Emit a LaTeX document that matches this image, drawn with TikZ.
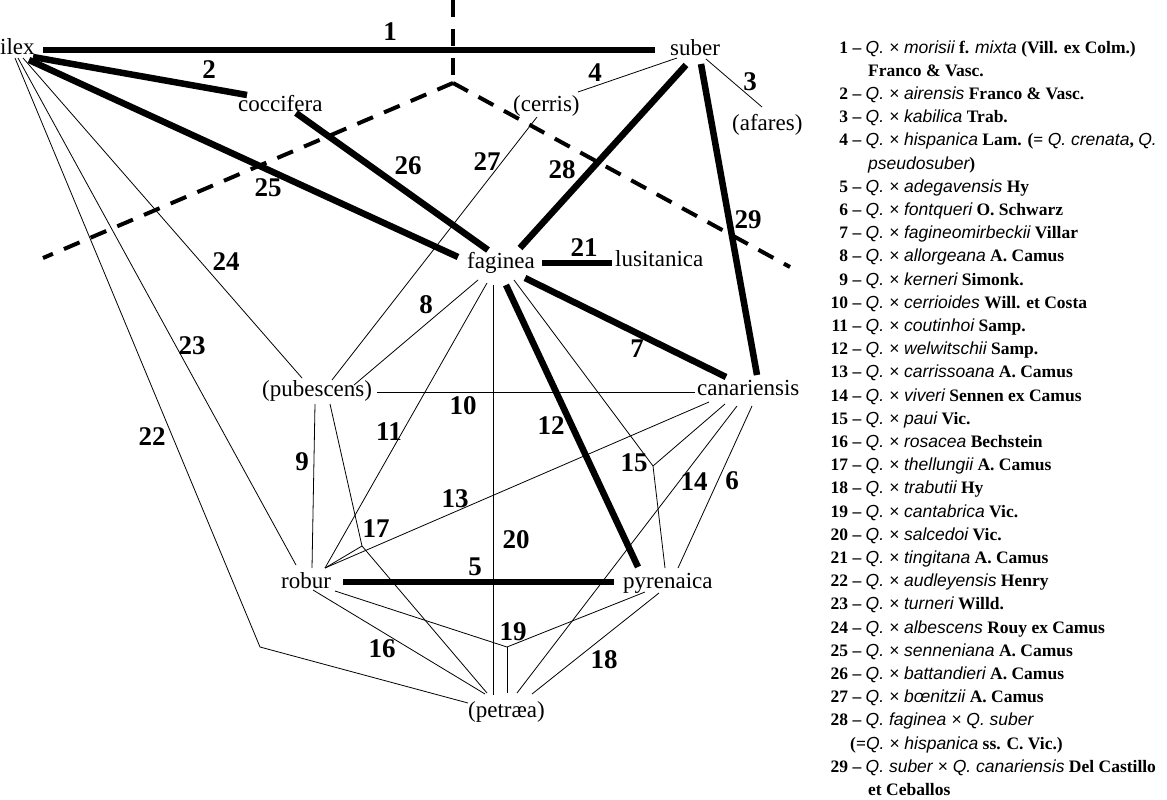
\documentclass[tikz,border=0pt]{standalone}
\usepackage{fontspec}
\setmainfont{Liberation Serif}
\newfontfamily\legsans{Liberation Sans}
\newcommand{\iq}[1]{{\legsans\itshape\mdseries #1}}
\newcommand{\legrow}[4]{\node[leg] (#1) at (826,{53+23.2*#2}) {\makebox[22pt][r]{#3} -- #4};}
\newcommand{\legcont}[4]{\node[leg] (#1) at (#3,{53+23.2*#2}) {#4};}
\begin{document}
\begin{tikzpicture}[x=1pt,y=-1pt,
  thickline/.style={line width=6.5pt},
  thinline/.style={line width=0.8pt},
  dashline/.style={line width=4pt, dash pattern=on 17pt off 12pt},
  lab/.style={inner sep=0pt, anchor=base west, font=\fontsize{23}{23}\selectfont},
  num/.style={inner sep=0pt, font=\fontsize{27}{27}\selectfont\bfseries},
  leg/.style={inner sep=0pt, anchor=base west, font=\fontsize{17.5}{17.5}\selectfont\bfseries},
]
\useasboundingbox (0,0) rectangle (1167,800);

% ---------- species labels ----------
\node[lab] (ilex) at (0,55) {ilex};
\node[lab] (suber) at (670,56) {suber};
\node[lab] (coccifera) at (238,111) {coccifera};
\node[lab] (cerris) at (513,111) {(cerris)};
\node[lab] (afares) at (732,130) {(afares)};
\node[lab] (faginea) at (467,268) {faginea};
\node[lab] (lusitanica) at (615,266) {lusitanica};
\node[lab] (pubescens) at (262,396) {(pubescens)};
\node[lab] (canariensis) at (697,395) {canariensis};
\node[lab] (robur) at (281,588) {robur};
\node[lab] (pyrenaica) at (623,588) {pyrenaica};
\node[lab] (petraea) at (468,717) {(petr\ae a)};

% ---------- connector end points ----------
\coordinate (ilexA) at (43,50);   \coordinate (suberA) at (655,50);
\coordinate (ilexB) at (33,57);   \coordinate (cocA) at (247,95);
\coordinate (ilexC) at (29,60);   \coordinate (fagC) at (458,257);
\coordinate (cocB) at (296,113);  \coordinate (fagD) at (488,250);
\coordinate (fagE) at (520,248);  \coordinate (suberB) at (686,65);
\coordinate (suberC) at (701,64); \coordinate (canA) at (757,375);
\coordinate (fagF) at (542,263);  \coordinate (lusA) at (612,263);
\coordinate (fagG) at (525,278);  \coordinate (canB) at (726,377);
\coordinate (fagH) at (506,285);  \coordinate (pyrA) at (638,567);
\coordinate (robA) at (343,582);  \coordinate (pyrB) at (614,582);
\coordinate (suberD) at (706,59); \coordinate (afaA) at (762,107);
\coordinate (suberE) at (677,58); \coordinate (cerA) at (578,92);
\coordinate (cerB) at (537,117);  \coordinate (pubA) at (332,380);
\coordinate (ilexD) at (23,58);   \coordinate (pubB) at (302,378);
\coordinate (ilexE) at (18,58);   \coordinate (robB) at (296,565);
\coordinate (ilexF) at (15,58);   \coordinate (bend22) at (260,647);
\coordinate (petA) at (468,703);
\coordinate (fagI) at (478,280);  \coordinate (pubC) at (354,385);
\coordinate (fagJ) at (487,283);  \coordinate (robC) at (325,568);
\coordinate (fagK) at (493,285);  \coordinate (petB) at (493,695);
\coordinate (fagL) at (514,280);  \coordinate (j15) at (653,466);
\coordinate (canC) at (725,404);  \coordinate (pyrC) at (665,568);
\coordinate (pubD) at (377,392);  \coordinate (canD) at (695,392);
\coordinate (pubE) at (315,404);  \coordinate (robD) at (312,568);
\coordinate (pubF) at (330,404);  \coordinate (j17) at (362,546);
\coordinate (petC) at (487,693);
\coordinate (canE) at (709,402);
\coordinate (canF) at (737,406);  \coordinate (petD) at (517,693);
\coordinate (canG) at (752,406);  \coordinate (pyrD) at (678,568);
\coordinate (robE) at (313,590);  \coordinate (petE) at (485,694);
\coordinate (robF) at (335,591);  \coordinate (j19) at (507,647);
\coordinate (pyrE) at (645,592);  \coordinate (petF) at (507,693);
\coordinate (pyrF) at (659,593);  \coordinate (petG) at (532,694);

% ---------- dashed lines ----------
\coordinate (dtop) at (453,0);
\coordinate (dj) at (453,83);
\coordinate (dleft) at (43,258);
\coordinate (dright) at (790,267);
\draw[dashline] (dtop) -- (dj);
\draw[dashline] (dj) -- (dleft);
\draw[dashline] (dj) -- (dright);

% ---------- thin connectors ----------
\draw[thinline] (suberD) -- (afaA);
\draw[thinline] (suberE) -- (cerA);
\draw[thinline] (cerB) -- (pubA);
\draw[thinline] (ilexD) -- (pubB);
\draw[thinline] (ilexE) -- (robB);
\draw[thinline] (ilexF) -- (bend22) -- (petA);
\draw[thinline] (fagI) -- (pubC);
\draw[thinline] (fagJ) -- (robC);
\draw[thinline] (fagK) -- (petB);
\draw[thinline] (fagL) -- (j15) -- (pyrC);
\draw[thinline] (canC) -- (j15);
\draw[thinline] (pubD) -- (canD);
\draw[thinline] (pubE) -- (robD);
\draw[thinline] (pubF) -- (j17) -- (petC);
\draw[thinline] (robC) -- (j17);
\draw[thinline] (robC) -- (canE);
\draw[thinline] (canF) -- (petD);
\draw[thinline] (canG) -- (pyrD);
\draw[thinline] (robE) -- (petE);
\draw[thinline] (robF) -- (j19) -- (pyrE);
\draw[thinline] (j19) -- (petF);
\draw[thinline] (pyrF) -- (petG);

% ---------- thick connectors ----------
\draw[thickline] (ilexA) -- (suberA);
\draw[thickline] (ilexB) -- (cocA);
\draw[thickline] (ilexC) -- (fagC);
\draw[thickline] (cocB) -- (fagD);
\draw[thickline] (fagE) -- (suberB);
\draw[thickline] (suberC) -- (canA);
\draw[thickline] (fagF) -- (lusA);
\draw[thickline] (fagG) -- (canB);
\draw[thickline] (fagH) -- (pyrA);
\draw[thickline] (robA) -- (pyrB);

% ---------- hybrid numbers ----------
\node[num] (n1) at (390,32) {1};
\node[num] (n2) at (209,70) {2};
\node[num] (n3) at (750,82) {3};
\node[num] (n4) at (595,73) {4};
\node[num] (n5) at (475,567) {5};
\node[num] (n6) at (732,481) {6};
\node[num] (n7) at (637,349) {7};
\node[num] (n8) at (426,305) {8};
\node[num] (n9) at (302,462) {9};
\node[num] (n10) at (463,406) {10};
\node[num] (n11) at (389,432) {11};
\node[num] (n12) at (551,426) {12};
\node[num] (n13) at (455,499) {13};
\node[num] (n14) at (694,482) {14};
\node[num] (n15) at (634,463) {15};
\node[num] (n16) at (382,649) {16};
\node[num] (n17) at (376,529) {17};
\node[num] (n18) at (604,660) {18};
\node[num] (n19) at (513,632) {19};
\node[num] (n20) at (516,540) {20};
\node[num] (n21) at (584,248) {21};
\node[num] (n22) at (152,437) {22};
\node[num] (n23) at (192,346) {23};
\node[num] (n24) at (226,262) {24};
\node[num] (n25) at (268,188) {25};
\node[num] (n26) at (408,166) {26};
\node[num] (n27) at (487,162) {27};
\node[num] (n28) at (562,170) {28};
\node[num] (n29) at (748,220) {29};

% ---------- legend ----------
\legrow{lg1}{0}{1}{\iq{Q. × morisii} f. \iq{mixta} (Vill. ex Colm.)}
\legcont{lg1b}{1}{868}{Franco \& Vasc.}
\legrow{lg2}{2}{2}{\iq{Q. × airensis} Franco \& Vasc.}
\legrow{lg3}{3}{3}{\iq{Q. × kabilica} Trab.}
\legrow{lg4}{4}{4}{\iq{Q. × hispanica} Lam. (= \iq{Q. crenata}, \iq{Q.}}
\legcont{lg4b}{5}{868}{\iq{pseudosuber})}
\legrow{lg5}{6}{5}{\iq{Q. × adegavensis} Hy}
\legrow{lg6}{7}{6}{\iq{Q. × fontqueri} O. Schwarz}
\legrow{lg7}{8}{7}{\iq{Q. × fagineomirbeckii} Villar}
\legrow{lg8}{9}{8}{\iq{Q. × allorgeana} A. Camus}
\legrow{lg9}{10}{9}{\iq{Q. × kerneri} Simonk.}
\legrow{lg10}{11}{10}{\iq{Q. × cerrioides} Will. et Costa}
\legrow{lg11}{12}{11}{\iq{Q. × coutinhoi} Samp.}
\legrow{lg12}{13}{12}{\iq{Q. × welwitschii} Samp.}
\legrow{lg13}{14}{13}{\iq{Q. × carrissoana} A. Camus}
\legrow{lg14}{15}{14}{\iq{Q. × viveri} Sennen ex Camus}
\legrow{lg15}{16}{15}{\iq{Q. × paui} Vic.}
\legrow{lg16}{17}{16}{\iq{Q. × rosacea} Bechstein}
\legrow{lg17}{18}{17}{\iq{Q. × thellungii} A. Camus}
\legrow{lg18}{19}{18}{\iq{Q. × trabutii} Hy}
\legrow{lg19}{20}{19}{\iq{Q. × cantabrica} Vic.}
\legrow{lg20}{21}{20}{\iq{Q. × salcedoi} Vic.}
\legrow{lg21}{22}{21}{\iq{Q. × tingitana} A. Camus}
\legrow{lg22}{23}{22}{\iq{Q. × audleyensis} Henry}
\legrow{lg23}{24}{23}{\iq{Q. × turneri} Willd.}
\legrow{lg24}{25}{24}{\iq{Q. × albescens} Rouy ex Camus}
\legrow{lg25}{26}{25}{\iq{Q. × senneniana} A. Camus}
\legrow{lg26}{27}{26}{\iq{Q. × battandieri} A. Camus}
\legrow{lg27}{28}{27}{\iq{Q. × bœnitzii} A. Camus}
\legrow{lg28}{29}{28}{\iq{Q. faginea × Q. suber}}
\legcont{lg28b}{30}{850}{(=\iq{Q. × hispanica} ss. C. Vic.)}
\legrow{lg29}{31}{29}{\iq{Q. suber × Q. canariensis} Del Castillo}
\legcont{lg29b}{32}{868}{et Ceballos}
\end{tikzpicture}
\end{document}
